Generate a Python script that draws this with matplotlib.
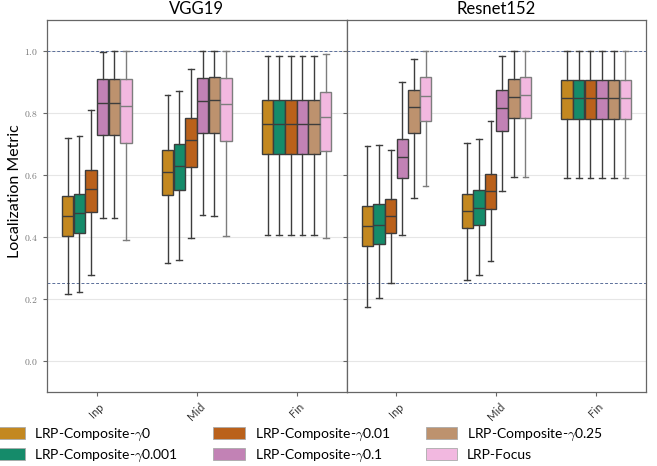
import matplotlib
matplotlib.use('Agg')
import matplotlib.pyplot as plt
import matplotlib.patches as mpatches
import seaborn as sns
from matplotlib.ticker import FuncFormatter

plt.rcParams['mathtext.fontset'] = 'cm'
plt.rcParams['font.family'] = ['Lato', 'DejaVu Sans']

layers = ['Inp', 'Mid', 'Fin']
methods = [r'LRP-Composite-$\gamma$0', r'LRP-Composite-$\gamma$0.001',
           r'LRP-Composite-$\gamma$0.01', r'LRP-Composite-$\gamma$0.1',
           r'LRP-Composite-$\gamma$0.25', 'LRP-Focus']
models = ['VGG19', 'Resnet152']

# box stats per layer (rows) and method (columns)
vgg_lo = [[0.215, 0.223, 0.277, 0.461, 0.461, 0.391],
          [0.315, 0.327, 0.397, 0.470, 0.468, 0.402],
          [0.406, 0.406, 0.406, 0.406, 0.406, 0.396]]
vgg_q1 = [[0.403, 0.413, 0.481, 0.728, 0.728, 0.702],
          [0.535, 0.550, 0.627, 0.735, 0.737, 0.710],
          [0.667, 0.667, 0.667, 0.667, 0.667, 0.679]]
vgg_med = [[0.467, 0.477, 0.554, 0.832, 0.832, 0.824],
           [0.610, 0.629, 0.713, 0.839, 0.841, 0.828],
           [0.764, 0.764, 0.764, 0.764, 0.764, 0.788]]
vgg_q3 = [[0.531, 0.538, 0.615, 0.909, 0.909, 0.909],
          [0.681, 0.699, 0.784, 0.912, 0.915, 0.912],
          [0.841, 0.841, 0.841, 0.841, 0.841, 0.868]]
vgg_hi = [[0.719, 0.727, 0.811, 0.997, 1.000, 1.000],
          [0.857, 0.872, 0.943, 1.000, 1.000, 1.000],
          [0.985, 0.985, 0.985, 0.985, 0.985, 0.989]]

res_lo = [[0.173, 0.204, 0.250, 0.406, 0.525, 0.565],
          [0.262, 0.277, 0.322, 0.548, 0.594, 0.594],
          [0.589, 0.589, 0.589, 0.589, 0.589, 0.589]]
res_q1 = [[0.370, 0.378, 0.413, 0.589, 0.735, 0.775],
          [0.430, 0.440, 0.490, 0.743, 0.784, 0.785],
          [0.780, 0.780, 0.780, 0.780, 0.780, 0.780]]
res_med = [[0.435, 0.440, 0.468, 0.657, 0.818, 0.855],
           [0.483, 0.493, 0.548, 0.815, 0.853, 0.857],
           [0.848, 0.848, 0.848, 0.848, 0.848, 0.848]]
res_q3 = [[0.500, 0.506, 0.522, 0.717, 0.873, 0.915],
          [0.539, 0.550, 0.603, 0.874, 0.911, 0.915],
          [0.907, 0.907, 0.907, 0.907, 0.907, 0.907]]
res_hi = [[0.695, 0.696, 0.682, 0.900, 0.973, 1.000],
          [0.702, 0.715, 0.773, 0.985, 1.000, 1.000],
          [1.000, 1.000, 1.000, 1.000, 1.000, 1.000]]

stats_all = [(vgg_lo, vgg_q1, vgg_med, vgg_q3, vgg_hi),
             (res_lo, res_q1, res_med, res_q3, res_hi)]

pal = sns.color_palette('colorblind')[1:7]
colors = [sns.desaturate(c, 0.75) for c in pal]
edges = ['#3d3d3d'] * 5 + ['#7d7d7d']

fig = plt.figure(figsize=(6.57, 4.66), dpi=100)
ax1 = fig.add_axes([0.0715, 0.159, 0.456, 0.798])
ax2 = fig.add_axes([0.5275, 0.159, 0.456, 0.798], sharey=ax1)
axes = [ax1, ax2]

bw = 0.7 / 6
for ax, name, (lo, q1, med, q3, hi) in zip(axes, models, stats_all):
    for j in range(6):
        st = []
        pos = []
        for i in range(3):
            st.append({'whislo': lo[i][j], 'q1': q1[i][j], 'med': med[i][j],
                       'q3': q3[i][j], 'whishi': hi[i][j], 'fliers': []})
            pos.append(i + (j - 2.5) * bw)
        ec = edges[j]
        ax.bxp(st, positions=pos, widths=bw * 0.98, patch_artist=True,
               showfliers=False, manage_ticks=False,
               boxprops=dict(facecolor=colors[j], edgecolor=ec, linewidth=1.0),
               medianprops=dict(color=ec, linewidth=1.0),
               whiskerprops=dict(color=ec, linewidth=1.0),
               capprops=dict(color=ec, linewidth=1.0), zorder=3)
    ax.axhline(1.0, color='#5b6f9a', lw=0.7, ls=(0, (3, 2)), zorder=2)
    ax.axhline(0.25, color='#5b6f9a', lw=0.7, ls=(0, (3, 2)), zorder=2)
    ax.set_xlim(-0.5, 2.5)
    ax.set_xticks(range(3))
    ax.set_xticklabels(layers, rotation=45, fontsize=8)
    ax.set_title(name, fontsize=12, pad=4)
    ax.grid(axis='y', color='#e6e6e6', lw=0.8, zorder=0)
    ax.set_axisbelow(True)
    for s in ax.spines.values():
        s.set_color('#666666')
        s.set_linewidth(0.9)
    ax.tick_params(length=3, color='#666666', labelcolor='#333333')

ax1.set_ylim(-0.1, 1.1)
ax1.set_yticks([0.0, 0.2, 0.4, 0.6, 0.8, 1.0])
ax1.yaxis.set_major_formatter(FuncFormatter(lambda v, p: r'$%.1f$' % v))
ax1.tick_params(axis='y', labelsize=7, labelcolor='#777777')
ax2.tick_params(axis='y', labelleft=False)
ax1.set_ylabel('Localization Metric', fontsize=11.5)
ax1.yaxis.set_label_coords(-0.083, 0.54)

handles = [mpatches.Patch(facecolor=colors[j], edgecolor='#aaaaaa', lw=0.6)
           for j in range(6)]
fig.legend(handles, methods, loc='upper left', bbox_to_anchor=(-0.03, 0.112),
           ncol=3, frameon=False, fontsize=10, handlelength=2.3,
           handleheight=0.95, columnspacing=2.5, labelspacing=0.4,
           handletextpad=0.7)

fig.savefig('out.png', dpi=100)
